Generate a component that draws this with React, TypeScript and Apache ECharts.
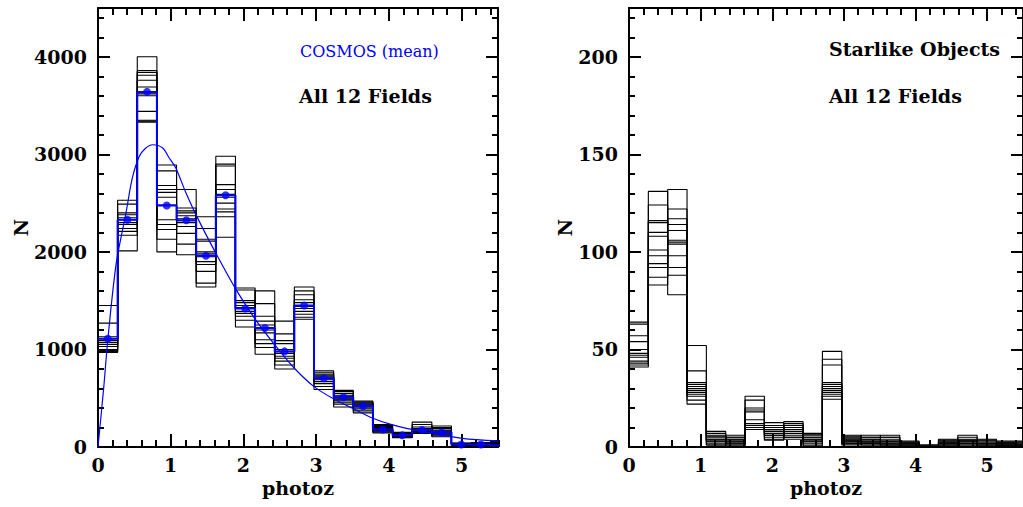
import React, { useEffect, useRef } from "react";
import * as echarts from "echarts";

// ---- data ----
const binStarts = [0, 0.27, 0.54, 0.81, 1.08, 1.35, 1.62, 1.89, 2.16, 2.43, 2.7, 2.97, 3.24, 3.51, 3.78, 4.05, 4.32, 4.59, 4.86, 5.13, 5.4];
const binWidth = 0.27;

// counts per bin (rows) for each of the 12 fields (columns) — all objects
const allFieldCounts = [
  [1110, 1450, 1030, 980, 1070, 1270, 1000, 970, 1130, 1050, 990, 1090],
  [2300, 2400, 2010, 2350, 2530, 2210, 2380, 2280, 2490, 2170, 2330, 2240],
  [3350, 3690, 3860, 3440, 3810, 3330, 4000, 3620, 3340, 3760, 3840, 3600],
  [2830, 2130, 2610, 2480, 2230, 2680, 2330, 2890, 2560, 2000, 2280, 2640],
  [2260, 2370, 2640, 1970, 2420, 2300, 2080, 2400, 2320, 2450, 2340, 2190],
  [1980, 1640, 1950, 2130, 1900, 2000, 2240, 1800, 2110, 1870, 2360, 1680],
  [2880, 2500, 2410, 2980, 2150, 2560, 2640, 2360, 2440, 2690, 2900, 2590],
  [1480, 1630, 1390, 1300, 1430, 1610, 1370, 1230, 1500, 1420, 1340, 1450],
  [1200, 1340, 950, 1250, 1600, 1060, 1290, 1170, 1470, 1020, 1220, 1100],
  [880, 980, 1160, 910, 1060, 800, 1290, 960, 840, 1000, 1090, 930],
  [1600, 1330, 1480, 1440, 1360, 1560, 1420, 1640, 1450, 1310, 1390, 1510],
  [670, 720, 780, 590, 740, 690, 620, 730, 700, 760, 710, 650],
  [510, 410, 500, 550, 490, 520, 570, 460, 530, 480, 580, 440],
  [450, 410, 390, 470, 350, 420, 430, 370, 400, 440, 460, 420],
  [200, 230, 175, 155, 185, 220, 170, 145, 210, 180, 165, 190],
  [120, 140, 95, 130, 150, 105, 135, 115, 145, 100, 125, 110],
  [155, 175, 230, 160, 190, 140, 255, 170, 150, 180, 205, 165],
  [200, 115, 165, 150, 125, 190, 145, 215, 155, 105, 135, 175],
  [22, 30, 40, 10, 35, 25, 15, 33, 27, 38, 28, 20],
  [28, 5, 26, 36, 24, 30, 40, 15, 32, 20, 45, 10],
  [45, 25, 15, 65, 5, 28, 35, 10, 20, 40, 55, 30],
];

// COSMOS mean per bin
const cosmosMean = [1110, 2330, 3640, 2475, 2325, 1960, 2580, 1420, 1220, 980, 1450, 705, 510, 420, 180, 120, 175, 150, 25, 25, 15];

// COSMOS smooth N(z) curve
const cosmosCurveZ = [0, 0.08, 0.135, 0.25, 0.385, 0.47, 0.565, 0.65, 0.75, 0.89, 0.98, 1.07, 1.21, 1.37, 1.62, 1.9, 2.2, 2.45, 2.7, 2.97, 3.25, 3.5, 3.78, 4.05, 4.46, 5.01, 5.5];
const cosmosCurveN = [0, 620, 1100, 1880, 2400, 2750, 2975, 3060, 3098, 3065, 2962, 2860, 2603, 2346, 1987, 1611, 1269, 1029, 807, 619, 489, 397, 294, 226, 157, 89, 62];

// counts per bin for each of the 12 fields — starlike objects
const starFieldCounts = [
  [43, 48, 63, 44, 54, 41, 64, 47, 42, 50, 57, 46],
  [124, 87, 110, 101, 92, 116, 98, 131, 108, 83, 94, 115],
  [98, 111, 132, 78, 117, 104, 88, 114, 105, 122, 106, 92],
  [30, 22, 29, 33, 28, 31, 39, 26, 32, 27, 52, 24],
  [6, 3, 2, 8, 1, 4, 5, 1, 3, 5.5, 7, 4],
  [4, 6, 2, 1, 3, 5, 2, 0, 5, 3, 1, 4],
  [12, 20, 9, 18, 26, 10, 19, 11, 24, 9, 14, 10],
  [5, 8, 11, 6, 9, 3.5, 12.5, 7, 4, 8, 10, 6],
  [12, 5, 9, 8, 5, 11, 7, 13, 9, 4, 6, 10],
  [3, 5, 7, 0.5, 6, 3, 1, 5, 4, 6.5, 4, 2],
  [31, 24.5, 30, 42, 29, 32, 45, 27, 33, 28, 49, 26],
  [5, 3, 2, 6, 1, 3, 4, 1.5, 2, 4.5, 5.5, 3.5],
  [4, 6, 2, 1, 3, 5, 2, 1, 5, 3, 2, 4],
  [2, 5, 0, 3, 6, 1, 4, 2, 5, 1, 3, 1],
  [0, 1, 2.5, 0.5, 2, 0, 3, 1, 0, 1.5, 2, 1],
  [1, 0, 0, 0, 0, 0.5, 0, 1, 0, 0, 0, 0.5],
  [1, 2, 4, 0, 3, 1, 0, 2.5, 1.5, 3.5, 2, 0.5],
  [3, 0, 2, 4, 2, 3, 5, 1, 3.5, 1.5, 6, 0.5],
  [3, 1, 0, 4, 0, 1, 2, 0, 0.5, 2, 3.5, 1.5],
  [2, 3, 1, 0, 1, 2.5, 0.5, 0, 2, 1, 0.5, 1.5],
  [1, 2, 0, 1, 3, 0, 1.5, 0.5, 2.5, 0, 1, 0.5],
];

const fieldCount = 12;
const xRange = [0, 5.5];
const leftYRange = [0, 4500];
const rightYRange = [0, 225];

// ---- helpers ----
const FONT = "DejaVu Serif";
const labelStyle = { fontFamily: FONT, fontWeight: "bold", fontSize: 19, color: "#000" };

function stepData(values: number[]) {
  const pts: number[][] = binStarts.map((s, i) => [s, values[i]]);
  const last = binStarts.length - 1;
  pts.push([binStarts[last] + binWidth, values[last]]);
  return pts;
}

function makeXAxes(gridIndex: number) {
  const base: any = {
    type: "value",
    gridIndex,
    min: xRange[0],
    max: xRange[1],
    splitLine: { show: false },
    axisLine: { show: true, onZero: false, lineStyle: { color: "#000", width: 2 } },
    axisTick: { show: true, inside: true, length: 13, lineStyle: { color: "#000", width: 2 } },
    axisLabel: { show: false },
  };
  const minorTick = { show: true, inside: true, length: 7, lineStyle: { color: "#000", width: 2 } };
  return [
    {
      ...base,
      position: "bottom",
      interval: 1,
      name: "photoz",
      nameLocation: "middle",
      nameGap: 24,
      nameTextStyle: labelStyle,
      axisLabel: { show: true, showMaxLabel: false, margin: 8, formatter: (v: number) => String(v), ...labelStyle },
    },
    { ...base, position: "bottom", interval: 0.2, axisLine: { show: false, onZero: false }, axisTick: minorTick },
    { ...base, position: "top", interval: 1 },
    { ...base, position: "top", interval: 0.2, axisLine: { show: false, onZero: false }, axisTick: minorTick },
  ];
}

function makeYAxes(gridIndex: number, range: number[], major: number, minor: number, nameGap: number) {
  const base: any = {
    type: "value",
    gridIndex,
    min: range[0],
    max: range[1],
    splitLine: { show: false },
    axisLine: { show: true, onZero: false, lineStyle: { color: "#000", width: 2 } },
    axisTick: { show: true, inside: true, length: 12, lineStyle: { color: "#000", width: 2 } },
    axisLabel: { show: false },
  };
  const minorTick = { show: true, inside: true, length: 6, lineStyle: { color: "#000", width: 2 } };
  return [
    {
      ...base,
      position: "left",
      interval: major,
      name: "N",
      nameLocation: "middle",
      nameRotate: 90,
      nameGap,
      nameTextStyle: labelStyle,
      axisLabel: { show: true, showMaxLabel: false, margin: 11, formatter: (v: number) => String(v), ...labelStyle },
    },
    { ...base, position: "left", interval: minor, axisLine: { show: false, onZero: false }, axisTick: minorTick },
    { ...base, position: "right", interval: major },
    { ...base, position: "right", interval: minor, axisLine: { show: false, onZero: false }, axisTick: minorTick },
  ];
}

function fieldSeries(rows: number[][], xAxisIndex: number, yAxisIndex: number) {
  const out: any[] = [];
  for (let f = 0; f < fieldCount; f++) {
    out.push({
      type: "line",
      step: "end",
      xAxisIndex,
      yAxisIndex,
      data: stepData(rows.map((r) => r[f])),
      symbol: "none",
      silent: true,
      z: 2,
      lineStyle: { color: "#000", width: 1.1 },
    });
  }
  return out;
}

export default function App() {
  const ref = useRef<HTMLDivElement>(null);
  useEffect(() => {
    if (!ref.current) return;
    const chart = echarts.init(ref.current, undefined, { renderer: "svg" });
    const option: any = {
      animation: false,
      backgroundColor: "#fff",
      grid: [
        { left: 98, top: 8, width: 400, height: 439 },
        { left: 629, top: 8, width: 400, height: 439 },
      ],
      xAxis: [...makeXAxes(0), ...makeXAxes(1)],
      yAxis: [
        ...makeYAxes(0, leftYRange, 1000, 200, 62),
        ...makeYAxes(1, rightYRange, 50, 10, 50),
      ],
      series: [
        ...fieldSeries(allFieldCounts, 0, 0),
        {
          type: "line",
          step: "end",
          xAxisIndex: 0,
          yAxisIndex: 0,
          data: stepData(cosmosMean),
          symbol: "none",
          silent: true,
          z: 4,
          lineStyle: { color: "#0000ff", width: 2 },
        },
        {
          type: "scatter",
          xAxisIndex: 0,
          yAxisIndex: 0,
          data: cosmosMean.map((v, i) => [binStarts[i] + binWidth / 2, v]),
          symbolSize: 8,
          silent: true,
          z: 5,
          itemStyle: { color: "#0000ff" },
        },
        {
          type: "line",
          xAxisIndex: 0,
          yAxisIndex: 0,
          smooth: 0.3,
          data: cosmosCurveZ.map((z, i) => [z, cosmosCurveN[i]]),
          symbol: "none",
          silent: true,
          z: 5,
          lineStyle: { color: "#0000ff", width: 1.2 },
        },
        ...fieldSeries(starFieldCounts, 4, 4),
      ],
      graphic: [
        { type: "text", left: 300, top: 43, style: { text: "COSMOS (mean)", fill: "#0000ff", fontFamily: FONT, fontSize: 16 } },
        { type: "text", left: 299, top: 86, style: { text: "All 12 Fields", fill: "#000", fontFamily: FONT, fontWeight: "bold", fontSize: 19 } },
        { type: "text", left: 829, top: 39, style: { text: "Starlike Objects", fill: "#000", fontFamily: FONT, fontWeight: "bold", fontSize: 19 } },
        { type: "text", left: 829, top: 86, style: { text: "All 12 Fields", fill: "#000", fontFamily: FONT, fontWeight: "bold", fontSize: 19 } },
      ],
    };
    chart.setOption(option);
    return () => chart.dispose();
  }, []);
  return (
    <div
      ref={ref}
      style={{ position: "absolute", left: 0, top: 0, width: 1023, height: 507, background: "#fff" }}
    />
  );
}
